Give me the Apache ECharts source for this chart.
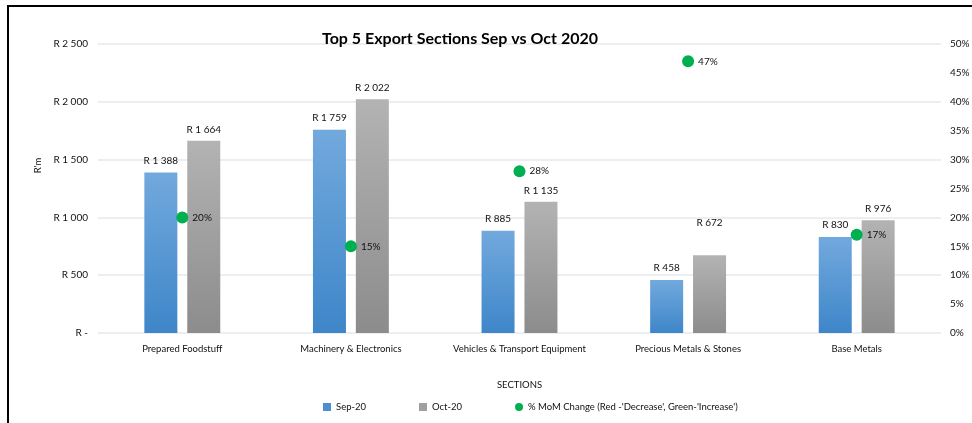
<!DOCTYPE html>
<html>
<head>
<meta charset="utf-8">
<script src="https://cdn.jsdelivr.net/npm/echarts@6/dist/echarts.min.js"></script>
<style>
html,body{margin:0;padding:0;background:#fff;}
#wrap{position:absolute;left:0;top:0;width:972px;height:423px;}
#chart{position:absolute;left:0;top:0;width:972px;height:423px;}
#frame{position:absolute;left:7px;top:5px;width:965px;height:418px;border-left:2px solid #000;border-top:2px solid #000;pointer-events:none;}
</style>
</head>
<body>
<div id="wrap"><div id="chart"></div><div id="frame"></div></div>
<script>
const categories = ['Prepared Foodstuff', 'Machinery & Electronics', 'Vehicles & Transport Equipment', 'Precious Metals & Stones', 'Base Metals'];
const sep20 = [1388, 1759, 885, 458, 830];
const oct20 = [1664, 2022, 1135, 672, 976];
const momChange = [20, 15, 28, 47, 17];
const seriesNames = ['Sep-20', 'Oct-20', "% MoM Change (Red -'Decrease', Green-'Increase')"];

const FONT = 'Lato, "Open Sans", sans-serif';
const TXT = '#111111';

function rand(v) {
  if (v === 0) return 'R -';
  return 'R ' + String(v).replace(/\B(?=(\d{3})+(?!\d))/g, ' ');
}

const chart = echarts.init(document.getElementById('chart'));
const blueGrad = new echarts.graphic.LinearGradient(0, 0, 0, 1, [
  {offset: 0, color: '#72a9dd'}, {offset: 1, color: '#3e86c9'}]);
const greyGrad = new echarts.graphic.LinearGradient(0, 0, 0, 1, [
  {offset: 0, color: '#b3b3b3'}, {offset: 1, color: '#8c8c8c'}]);

chart.setOption({
  animation: false,
  textStyle: {fontFamily: FONT},
  title: {
    text: 'Top 5 Export Sections Sep vs Oct 2020',
    left: 455, top: 26, textAlign: 'center',
    textStyle: {fontFamily: FONT, fontSize: 16, fontWeight: 'bold', color: '#000'}
  },
  legend: {
    bottom: 6, left: 318, itemGap: 53,
    textStyle: {fontFamily: FONT, fontSize: 9.5, color: TXT},
    data: [
      {name: seriesNames[0], icon: 'rect', itemStyle: {color: '#4a90d0'}},
      {name: seriesNames[1], icon: 'rect', itemStyle: {color: '#a0a0a0'}},
      {name: seriesNames[2], icon: 'circle', itemStyle: {color: '#00b050'}}
    ],
    itemWidth: 8, itemHeight: 8
  },
  grid: {left: 98, right: 31, top: 44, bottom: 90, containLabel: false, outerBoundsMode: 'none'},
  xAxis: {
    type: 'category', data: categories,
    name: 'SECTIONS', nameLocation: 'middle', nameGap: 47,
    nameTextStyle: {fontFamily: FONT, fontSize: 9.5, color: TXT},
    axisLine: {show: false}, axisTick: {show: false},
    axisLabel: {fontFamily: FONT, fontSize: 9.5, color: TXT, margin: 11, interval: 0}
  },
  yAxis: [
    {
      type: 'value', min: 0, max: 2500, interval: 500,
      name: "R'm", nameLocation: 'middle', nameGap: 44, nameRotate: 90,
      nameTextStyle: {fontFamily: FONT, fontSize: 9.5, color: TXT, padding: [0, 0, 0, 46]},
      axisLine: {show: false}, axisTick: {show: false},
      axisLabel: {fontFamily: FONT, fontSize: 10, color: TXT, margin: 10, formatter: rand},
      splitLine: {lineStyle: {color: '#e4e8ef', width: 1.5}}
    },
    {
      type: 'value', min: 0, max: 50, interval: 5,
      name: '%', nameLocation: 'middle', nameGap: 22, nameRotate: -90,
      nameTextStyle: {fontFamily: FONT, fontSize: 10, color: TXT},
      axisLine: {show: false}, axisTick: {show: false},
      axisLabel: {fontFamily: FONT, fontSize: 10, color: TXT, margin: 9, formatter: '{value}%'},
      splitLine: {show: false}
    }
  ],
  series: [
    {
      name: seriesNames[0], type: 'bar', data: sep20, barWidth: 33, barGap: '30%',
      itemStyle: {color: blueGrad},
      label: {show: true, position: 'top', distance: 7, fontFamily: FONT, fontSize: 10, color: TXT, formatter: p => rand(p.value)}
    },
    {
      name: seriesNames[1], type: 'bar', barWidth: 33,
      data: oct20.map((v, i) => i === 3 ? {value: v, label: {distance: 28}} : v),
      itemStyle: {color: greyGrad},
      label: {show: true, position: 'top', distance: 6, fontFamily: FONT, fontSize: 10, color: TXT, formatter: p => rand(p.value)}
    },
    {
      name: seriesNames[2], type: 'line', yAxisIndex: 1, data: momChange,
      lineStyle: {width: 0, opacity: 0}, symbol: 'circle', symbolSize: 12,
      itemStyle: {color: '#00b050'},
      label: {show: true, position: 'right', distance: 4, fontFamily: FONT, fontSize: 10, color: TXT, formatter: '{c}%'}
    }
  ]
});
</script>
</body>
</html>
